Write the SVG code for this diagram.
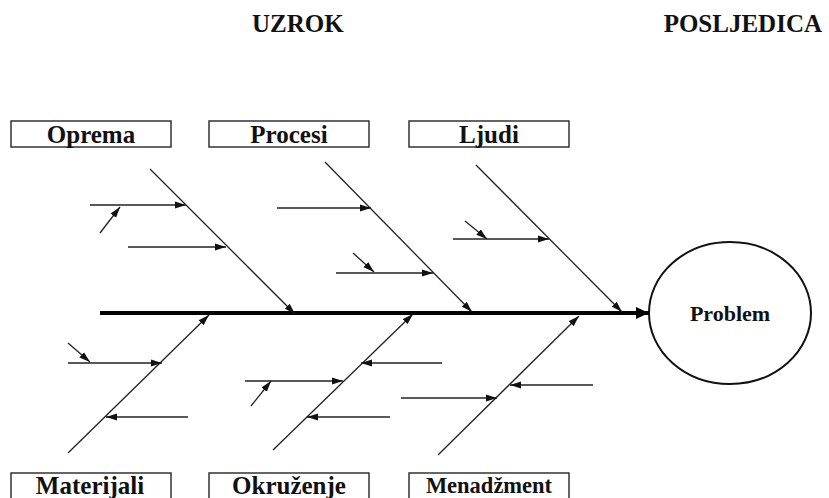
<svg xmlns="http://www.w3.org/2000/svg" width="829" height="498" viewBox="0 0 829 498">
<style>
text{font-family:"Liberation Serif","Times New Roman",serif;font-weight:bold;fill:#111;}
.lbl{font-size:25px;text-anchor:middle;}
.box{fill:#fff;stroke:#333;stroke-width:1.5;}
.bone{stroke:#222;stroke-width:1.3;fill:none;}
.sub{stroke:#222;stroke-width:1.3;fill:none;marker-end:url(#ah);}
</style>
<defs>
<marker id="ah" markerUnits="userSpaceOnUse" markerWidth="11" markerHeight="8" refX="11" refY="4" orient="auto">
<path d="M0,0.5 L11,4 L0,7.5 z" fill="#111"/>
</marker>
<marker id="big" markerUnits="userSpaceOnUse" markerWidth="13" markerHeight="12" refX="13" refY="6" orient="auto">
<path d="M0,0 L13,6 L0,12 z" fill="#000"/>
</marker>
</defs>
<rect width="829" height="498" fill="#fff"/>
<text x="252" y="32" style="font-size:25px">UZROK</text>
<text x="822" y="32" style="font-size:25px;text-anchor:end">POSLJEDICA</text>

<g id="oprema"><rect class="box" x="11" y="121" width="160" height="26"/><text class="lbl" x="91" y="142.5">Oprema</text></g>
<g id="procesi"><rect class="box" x="209" y="121" width="160" height="26"/><text class="lbl" x="289" y="142.5">Procesi</text></g>
<g id="ljudi"><rect class="box" x="409" y="121" width="160" height="26"/><text class="lbl" x="489" y="142.5">Ljudi</text></g>
<g id="materijali"><rect class="box" x="11" y="473" width="160" height="30"/><text class="lbl" x="90" y="493.5">Materijali</text></g>
<g id="okruzenje"><rect class="box" x="209" y="473" width="160" height="30"/><text class="lbl" x="289" y="493.5">Okruženje</text></g>
<g id="menadzment"><rect class="box" x="409" y="473" width="160" height="30"/><text class="lbl" x="489" y="493" style="font-size:22.5px">Menadžment</text></g>
<g id="problem"><ellipse cx="730" cy="313" rx="81" ry="71" fill="#fff" stroke="#111" stroke-width="2"/><text x="730" y="321" style="font-size:22px;text-anchor:middle">Problem</text></g>

<g id="connectors">
<line x1="100" y1="313" x2="649" y2="313" stroke="#000" stroke-width="4" marker-end="url(#big)"/>
<line class="sub" x1="150" y1="169" x2="295" y2="314"/>
<line class="sub" x1="325" y1="162" x2="472" y2="312"/>
<line class="sub" x1="476" y1="165" x2="622" y2="312"/>
<line class="sub" x1="68" y1="453" x2="209" y2="315"/>
<line class="sub" x1="273" y1="450" x2="413" y2="314"/>
<line class="sub" x1="438" y1="455" x2="579" y2="316"/>

<line class="sub" x1="90" y1="205" x2="186" y2="205"/>
<line class="sub" x1="100" y1="233" x2="120" y2="207"/>
<line class="sub" x1="128" y1="247" x2="226" y2="247"/>
<line class="sub" x1="277" y1="208" x2="371" y2="208"/>
<line class="sub" x1="336" y1="273" x2="433" y2="273"/>
<line class="sub" x1="353" y1="253" x2="374" y2="272"/>
<line class="sub" x1="453" y1="239" x2="549" y2="239"/>
<line class="sub" x1="465" y1="221" x2="487" y2="239"/>

<line class="sub" x1="68" y1="363" x2="162" y2="363"/>
<line class="sub" x1="68" y1="343" x2="90" y2="362"/>
<line class="sub" x1="188" y1="417" x2="106" y2="417"/>
<line class="sub" x1="442" y1="363" x2="361" y2="363"/>
<line class="sub" x1="245" y1="381" x2="343" y2="381"/>
<line class="sub" x1="251" y1="406" x2="271" y2="381"/>
<line class="sub" x1="390" y1="417" x2="307" y2="417"/>
<line class="sub" x1="593" y1="385" x2="510" y2="385"/>
<line class="sub" x1="401" y1="398" x2="497" y2="398"/>
</g>
</svg>
